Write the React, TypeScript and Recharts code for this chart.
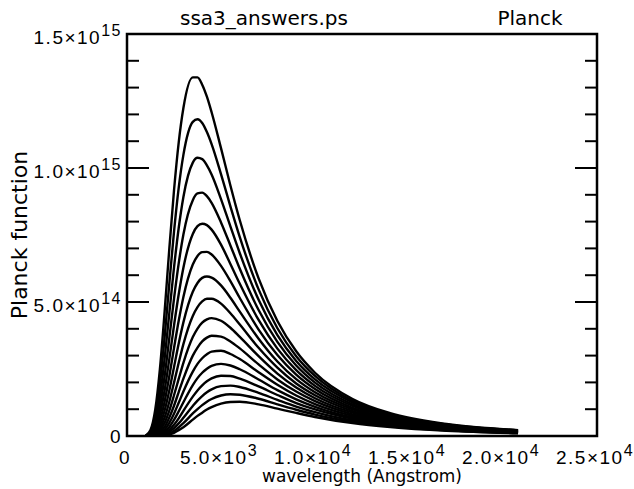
import { LineChart, Line, XAxis, YAxis, ReferenceArea } from 'recharts';

// Planck curves. y values in units of 1e14.
const wavelength = [
  1000, 1250, 1500, 1750, 2000, 2250, 2500, 2750, 3000, 3500, 3750, 4000, 4250,
  4500, 5000, 5500, 6000, 7000, 8000, 9000, 10000, 12000, 14000, 17000, 20800,
];

const temperatures = [8000, 7800, 7600, 7400, 7200, 7000, 6800, 6600, 6400, 6200, 6000, 5800, 5600, 5400, 5200, 5000];

const b8000 = [0.02, 0.22, 0.97, 2.5, 4.63, 6.98, 9.16, 10.95, 12.24, 13.38, 13.38, 13.11, 12.66, 12.08, 10.74, 9.35, 8.05, 5.88, 4.29, 3.16, 2.36, 1.38, 0.85, 0.45, 0.22];
const b7800 = [0.01, 0.15, 0.72, 1.92, 3.68, 5.68, 7.62, 9.26, 10.49, 11.72, 11.82, 11.68, 11.34, 10.89, 9.77, 8.57, 7.42, 5.47, 4.02, 2.98, 2.24, 1.31, 0.81, 0.43, 0.21];
const b7600 = [0.01, 0.1, 0.52, 1.45, 2.88, 4.58, 6.28, 7.76, 8.92, 10.2, 10.38, 10.33, 10.1, 9.76, 8.84, 7.82, 6.82, 5.08, 3.76, 2.8, 2.11, 1.25, 0.77, 0.41, 0.21];
const b7400 = [0, 0.07, 0.37, 1.08, 2.23, 3.65, 5.12, 6.44, 7.52, 8.8, 9.05, 9.08, 8.95, 8.7, 7.97, 7.11, 6.24, 4.7, 3.51, 2.63, 1.99, 1.18, 0.74, 0.39, 0.2];
const b7200 = [0, 0.04, 0.26, 0.8, 1.7, 2.87, 4.12, 5.29, 6.28, 7.54, 7.83, 7.92, 7.87, 7.7, 7.14, 6.42, 5.68, 4.33, 3.26, 2.46, 1.87, 1.12, 0.7, 0.37, 0.19];
const b7000 = [0, 0.03, 0.18, 0.58, 1.28, 2.23, 3.28, 4.3, 5.19, 6.4, 6.72, 6.86, 6.87, 6.77, 6.35, 5.78, 5.15, 3.97, 3.02, 2.29, 1.75, 1.05, 0.66, 0.36, 0.18];
const b6800 = [0, 0.02, 0.12, 0.41, 0.95, 1.7, 2.57, 3.45, 4.24, 5.38, 5.71, 5.9, 5.95, 5.91, 5.62, 5.16, 4.64, 3.63, 2.78, 2.12, 1.63, 0.99, 0.63, 0.34, 0.17];
const b6600 = [0, 0.01, 0.08, 0.28, 0.69, 1.28, 1.99, 2.73, 3.43, 4.48, 4.81, 5.02, 5.12, 5.12, 4.94, 4.58, 4.16, 3.29, 2.55, 1.96, 1.52, 0.93, 0.59, 0.32, 0.17];
const b6400 = [0, 0.01, 0.05, 0.19, 0.49, 0.95, 1.52, 2.13, 2.73, 3.69, 4.01, 4.23, 4.35, 4.4, 4.3, 4.04, 3.7, 2.98, 2.33, 1.81, 1.41, 0.87, 0.56, 0.3, 0.16];
const b6200 = [0, 0, 0.03, 0.13, 0.34, 0.69, 1.13, 1.64, 2.14, 3.0, 3.3, 3.53, 3.67, 3.74, 3.71, 3.53, 3.27, 2.67, 2.11, 1.66, 1.3, 0.81, 0.52, 0.29, 0.15];
const b6000 = [0, 0, 0.02, 0.08, 0.23, 0.49, 0.83, 1.24, 1.66, 2.4, 2.69, 2.9, 3.05, 3.15, 3.18, 3.06, 2.87, 2.38, 1.91, 1.51, 1.19, 0.75, 0.49, 0.27, 0.14];
const b5800 = [0, 0, 0.01, 0.05, 0.15, 0.34, 0.6, 0.92, 1.26, 1.9, 2.16, 2.36, 2.51, 2.62, 2.69, 2.63, 2.49, 2.11, 1.71, 1.37, 1.09, 0.69, 0.45, 0.25, 0.13];
const b5600 = [0, 0, 0.01, 0.03, 0.1, 0.23, 0.42, 0.66, 0.94, 1.47, 1.7, 1.89, 2.04, 2.15, 2.25, 2.24, 2.14, 1.85, 1.53, 1.23, 0.99, 0.64, 0.42, 0.24, 0.13];
const b5400 = [0, 0, 0, 0.02, 0.06, 0.15, 0.29, 0.47, 0.68, 1.12, 1.32, 1.49, 1.63, 1.74, 1.86, 1.88, 1.83, 1.61, 1.35, 1.1, 0.89, 0.58, 0.39, 0.22, 0.12];
const b5200 = [0, 0, 0, 0.01, 0.04, 0.09, 0.19, 0.32, 0.48, 0.84, 1.0, 1.15, 1.28, 1.38, 1.51, 1.56, 1.54, 1.39, 1.18, 0.98, 0.8, 0.53, 0.36, 0.21, 0.11];
const b5000 = [0, 0, 0, 0.01, 0.02, 0.06, 0.12, 0.22, 0.33, 0.61, 0.75, 0.87, 0.99, 1.08, 1.21, 1.27, 1.28, 1.18, 1.02, 0.86, 0.71, 0.48, 0.33, 0.19, 0.1];

const curves = [b8000, b7800, b7600, b7400, b7200, b7000, b6800, b6600, b6400, b6200, b6000, b5800, b5600, b5400, b5200, b5000];

const xTicks = [0, 5000, 10000, 15000, 20000, 25000];
const xTickMantissa = ['0', '5.0', '1.0', '1.5', '2.0', '2.5'];
const xTickExponent = ['', '3', '4', '4', '4', '4'];
const xMajorTicks = [5000, 10000, 15000, 20000];
const xMinorTicks = [
  0, 1000, 2000, 3000, 4000, 5000, 6000, 7000, 8000, 9000, 10000, 11000, 12000, 13000,
  14000, 15000, 16000, 17000, 18000, 19000, 20000, 21000, 22000, 23000, 24000, 25000,
];

const yTicks = [0, 5, 10, 15];
const yTickMantissa = ['0', '5.0', '1.0', '1.5'];
const yTickExponent = ['', '14', '15', '15'];
const yMajorTicks = [5, 10];
const yMinorTicks = [0, 1, 2, 3, 4, 5, 6, 7, 8, 9, 10, 11, 12, 13, 14, 15];

const data = wavelength.map((wl, i) => {
  const row: Record<string, number> = { wl };
  temperatures.forEach((t, k) => {
    row[`T${t}`] = curves[k][i];
  });
  return row;
});

const FONT = "'Liberation Sans', Arial, sans-serif";
const TITLE_FONT = "'DejaVu Sans', sans-serif";
const tickLineStyle = { stroke: '#000', strokeWidth: 2 };

function NoLabel() {
  return <g />;
}

function XTickLabel(props: any) {
  const { x, y, payload } = props;
  const i = xTicks.indexOf(payload.value);
  const hasExp = xTickExponent[i] !== '';
  return (
    <text x={x - 2} y={y + 28} textAnchor="middle" fontFamily={FONT} fontSize={19} letterSpacing={1.5} fill="#000">
      <tspan>{hasExp ? `${xTickMantissa[i]}×10` : xTickMantissa[i]}</tspan>
      {hasExp && (
        <tspan dy={-8} fontSize={16}>
          {xTickExponent[i]}
        </tspan>
      )}
    </text>
  );
}

function YTickLabel(props: any) {
  const { x, y, payload } = props;
  const i = yTicks.indexOf(payload.value);
  const hasExp = yTickExponent[i] !== '';
  return (
    <text x={x - 5} y={y + (hasExp ? 10 : 6.5)} textAnchor="end" fontFamily={FONT} fontSize={19} letterSpacing={1.5} fill="#000">
      <tspan>{hasExp ? `${yTickMantissa[i]}×10` : yTickMantissa[i]}</tspan>
      {hasExp && (
        <tspan dy={-8} fontSize={16}>
          {yTickExponent[i]}
        </tspan>
      )}
    </text>
  );
}

export default function App() {
  return (
    <div style={{ position: 'absolute', left: 0, top: 0, width: 634, height: 489, background: '#fff' }}>
      <LineChart width={634} height={489} data={data} margin={{ top: 34, right: 37, bottom: 0, left: 0 }}>
        {/* label axes */}
        <XAxis
          xAxisId="x"
          dataKey="wl"
          type="number"
          domain={[0, 25000]}
          allowDataOverflow
          ticks={xTicks}
          interval={0}
          height={53}
          tickSize={0}
          tickMargin={0}
          axisLine={false}
          tickLine={false}
          tick={<XTickLabel />}
        />
        <YAxis
          yAxisId="y"
          type="number"
          domain={[0, 15]}
          allowDataOverflow
          ticks={yTicks}
          interval={0}
          width={127}
          tickSize={0}
          tickMargin={0}
          axisLine={false}
          tickLine={false}
          tick={<YTickLabel />}
        />
        {/* inward tick marks on all four sides */}
        <XAxis xAxisId="bMinor" orientation="bottom" mirror type="number" domain={[0, 25000]} allowDataOverflow ticks={xMinorTicks} interval={0} height={1} tickSize={9} axisLine={false} tickLine={tickLineStyle} tick={<NoLabel />} />
        <XAxis xAxisId="bMajor" orientation="bottom" mirror type="number" domain={[0, 25000]} allowDataOverflow ticks={xMajorTicks} interval={0} height={1} tickSize={17} axisLine={false} tickLine={tickLineStyle} tick={<NoLabel />} />
        <XAxis xAxisId="tMinor" orientation="top" mirror type="number" domain={[0, 25000]} allowDataOverflow ticks={xMinorTicks} interval={0} height={1} tickSize={9} axisLine={false} tickLine={tickLineStyle} tick={<NoLabel />} />
        <XAxis xAxisId="tMajor" orientation="top" mirror type="number" domain={[0, 25000]} allowDataOverflow ticks={xMajorTicks} interval={0} height={1} tickSize={17} axisLine={false} tickLine={tickLineStyle} tick={<NoLabel />} />
        <YAxis yAxisId="lMinor" orientation="left" mirror type="number" domain={[0, 15]} allowDataOverflow ticks={yMinorTicks} interval={0} width={1} tickSize={11} axisLine={false} tickLine={tickLineStyle} tick={<NoLabel />} />
        <YAxis yAxisId="lMajor" orientation="left" mirror type="number" domain={[0, 15]} allowDataOverflow ticks={yMajorTicks} interval={0} width={1} tickSize={22} axisLine={false} tickLine={tickLineStyle} tick={<NoLabel />} />
        <YAxis yAxisId="rMinor" orientation="right" mirror type="number" domain={[0, 15]} allowDataOverflow ticks={yMinorTicks} interval={0} width={1} tickSize={11} axisLine={false} tickLine={tickLineStyle} tick={<NoLabel />} />
        <YAxis yAxisId="rMajor" orientation="right" mirror type="number" domain={[0, 15]} allowDataOverflow ticks={yMajorTicks} interval={0} width={1} tickSize={22} axisLine={false} tickLine={tickLineStyle} tick={<NoLabel />} />

        <ReferenceArea
          xAxisId="x"
          yAxisId="y"
          x1={0}
          x2={25000}
          y1={0}
          y2={15}
          fill="none"
          fillOpacity={0}
          stroke="#000"
          strokeWidth={2.5}
          ifOverflow="visible"
        />

        {temperatures.map((t) => (
          <Line
            key={t}
            xAxisId="x"
            yAxisId="y"
            type="monotone"
            dataKey={`T${t}`}
            stroke="#000"
            strokeWidth={2.4}
            dot={false}
            activeDot={false}
            isAnimationActive={false}
          />
        ))}
      </LineChart>

      <svg
        width={634}
        height={489}
        style={{ position: 'absolute', left: 0, top: 0, pointerEvents: 'none' }}
        fontFamily={TITLE_FONT}
        fill="#000"
      >
        <text x={264} y={25} textAnchor="middle" fontSize={20}>
          ssa3_answers.ps
        </text>
        <text x={530} y={25} textAnchor="middle" fontSize={20}>
          Planck
        </text>
        <text x={362} y={482} textAnchor="middle" fontSize={17}>
          wavelength (Angstrom)
        </text>
        <text x={27} y={235} textAnchor="middle" fontSize={22} transform="rotate(-90 27 235)">
          Planck function
        </text>
      </svg>
    </div>
  );
}
